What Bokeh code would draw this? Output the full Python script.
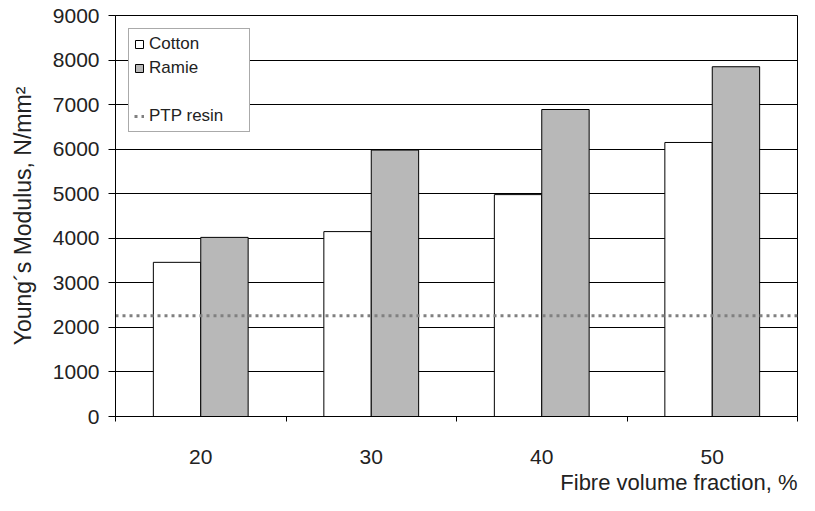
from bokeh.plotting import figure
from bokeh.models import FixedTicker, Legend, LegendItem, Title, Range1d
from bokeh.embed import file_html
from bokeh.resources import INLINE

categories = ["20", "30", "40", "50"]
cotton = [3460, 4150, 4980, 6150]
ramie = [4020, 5980, 6890, 7850]
ptp_resin = 2260
y_ticks = [0, 1000, 2000, 3000, 4000, 5000, 6000, 7000, 8000, 9000]

FONT = "Liberation Sans"
BAR_W = 0.278

idx = list(range(len(categories)))
x_cotton = [i + 0.5 - BAR_W / 2 for i in idx]
x_ramie = [i + 0.5 + BAR_W / 2 for i in idx]

p = figure(width=799, height=495, output_backend="svg", toolbar_location=None,
           x_range=Range1d(0, len(categories)), y_range=Range1d(0, 9000),
           min_border_left=115, min_border_right=2, min_border_top=15, min_border_bottom=40)
p.background_fill_color = "white"
p.border_fill_color = "white"
p.outline_line_color = "black"
p.outline_line_width = 1

p.xgrid.grid_line_color = None
p.ygrid.grid_line_color = "black"
p.ygrid.grid_line_width = 1
p.ygrid.level = "underlay"

r_cot = p.vbar(x=x_cotton, top=cotton, width=BAR_W, fill_color="white", line_color="black", line_width=1)
r_ram = p.vbar(x=x_ramie, top=ramie, width=BAR_W, fill_color="#b8b8b8", line_color="black", line_width=1)
r_ptp = p.line(x=[0, len(categories)], y=[ptp_resin, ptp_resin], line_color="#808080",
               line_width=3, line_dash="3 4")
r_blank = p.line(x=[0, 0], y=[0, 0], line_alpha=0)

p.yaxis.ticker = FixedTicker(ticks=y_ticks)
p.yaxis.axis_label = "Young\u00b4s Modulus, N/mm\u00b2"
p.yaxis.axis_label_text_font = FONT
p.yaxis.axis_label_text_font_size = "23px"
p.yaxis.axis_label_text_font_style = "normal"
p.yaxis.axis_label_text_color = "#222222"
p.yaxis.axis_label_standoff = 14
p.yaxis.major_label_text_font = FONT
p.yaxis.major_label_text_font_size = "21px"
p.yaxis.major_label_text_color = "#222222"
p.yaxis.major_tick_in = 0
p.yaxis.major_tick_out = 7
p.yaxis.minor_tick_out = 0
p.yaxis.minor_tick_in = 0
p.yaxis.major_label_standoff = 9
p.yaxis.axis_line_color = "black"

p.xaxis.ticker = FixedTicker(ticks=[i + 0.5 for i in idx], minor_ticks=list(range(len(categories) + 1)))
p.xaxis.major_label_overrides = {i + 0.5: c for i, c in zip(idx, categories)}
p.xaxis.major_label_text_font = FONT
p.xaxis.major_label_text_font_size = "21px"
p.xaxis.major_label_text_color = "#222222"
p.xaxis.major_tick_in = 0
p.xaxis.major_tick_out = 0
p.xaxis.minor_tick_in = 0
p.xaxis.minor_tick_out = 5
p.xaxis.minor_tick_line_color = "black"
p.xaxis.major_label_standoff = 28
p.xaxis.axis_line_color = "black"

p.add_layout(Title(text="Fibre volume fraction, %", align="right", text_font=FONT,
                   text_font_size="22px", text_font_style="normal", text_color="#222222",
                   standoff=2), "below")

legend = Legend(items=[
    LegendItem(label="Cotton", renderers=[r_cot]),
    LegendItem(label="Ramie", renderers=[r_ram]),
    LegendItem(label=" ", renderers=[r_blank]),
    LegendItem(label="PTP resin", renderers=[r_ptp]),
], location="top_left")
legend.margin = 13
legend.padding = 5
legend.spacing = 4
legend.glyph_width = 10
legend.glyph_height = 10
legend.label_height = 20
legend.label_standoff = 5
legend.label_width = 95
legend.label_text_font = FONT
legend.label_text_font_size = "17px"
legend.label_text_color = "#222222"
legend.border_line_color = "#555555"
legend.border_line_width = 1
legend.background_fill_color = "white"
legend.background_fill_alpha = 1
p.add_layout(legend)

open("out.html", "w").write(file_html(p, INLINE))
